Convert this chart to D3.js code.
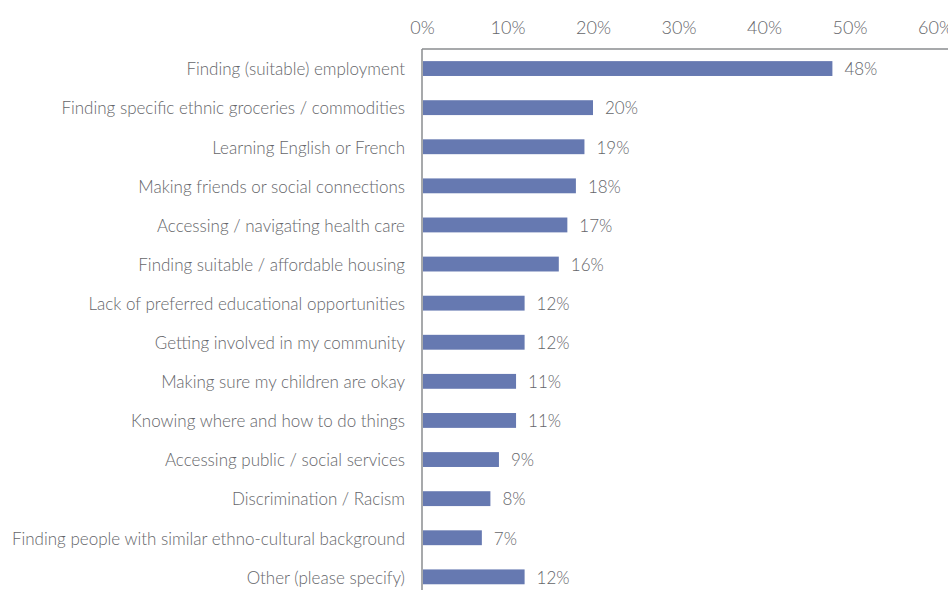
<!DOCTYPE html>
<html>
<head>
<meta charset="utf-8">
<script src="https://cdn.jsdelivr.net/npm/d3@7"></script>
<style>
  html, body { margin: 0; padding: 0; background: #fff; }
  svg { display: block; }
  text { font-family: Lato, "Open Sans", sans-serif; font-weight: 300; fill: #65666a; }
</style>
</head>
<body>
<svg id="chart" width="948" height="590"></svg>
<script>
// Challenges reported by respondents (% of responses)
const categories = [
  "Finding (suitable) employment",
  "Finding specific ethnic groceries / commodities",
  "Learning English or French",
  "Making friends or social connections",
  "Accessing / navigating health care",
  "Finding suitable / affordable housing",
  "Lack of preferred educational opportunities",
  "Getting involved in my community",
  "Making sure my children are okay",
  "Knowing where and how to do things",
  "Accessing public / social services",
  "Discrimination / Racism",
  "Finding people with similar ethno-cultural background",
  "Other (please specify)"
];
const values = [48, 20, 19, 18, 17, 16, 12, 12, 11, 11, 9, 8, 7, 12];
const tickValues = [0, 10, 20, 30, 40, 50, 60];

const svg = d3.select("#chart");
const margin = { left: 422, top: 49 };

const x = d3.scaleLinear().domain([0, 60]).range([margin.left, margin.left + 513]);
const y = d3.scaleBand().domain(categories)
  .range([margin.top, margin.top + 39.1 * categories.length])
  .paddingInner(0.62).paddingOuter(0.31);

// top axis: tick labels only, with a plain baseline across the width
const xAxis = d3.axisTop(x).tickValues(tickValues).tickSize(0).tickPadding(15)
  .tickFormat(d => d + "%");
const gx = svg.append("g").attr("transform", `translate(0,${margin.top})`).call(xAxis);
gx.select(".domain").remove();
gx.selectAll("text").style("font-size", "18px").attr("fill", "#65666a");

svg.append("line")
  .attr("x1", margin.left).attr("x2", 948)
  .attr("y1", margin.top).attr("y2", margin.top)
  .attr("stroke", "#8a8c8f").attr("stroke-width", 1.5);

// left axis: category labels with a vertical line to the bottom edge
const yAxis = d3.axisLeft(y).tickSize(0).tickPadding(17);
const gy = svg.append("g").attr("transform", `translate(${margin.left},0)`).call(yAxis);
gy.select(".domain").remove();
gy.selectAll("text").style("font-size", "17px").attr("fill", "#65666a").attr("dy", "0.4em");

svg.append("line")
  .attr("x1", margin.left).attr("x2", margin.left)
  .attr("y1", margin.top).attr("y2", 590)
  .attr("stroke", "#8a8c8f").attr("stroke-width", 1.5);

// bars
svg.append("g").selectAll("rect").data(values).join("rect")
  .attr("x", x(0) + 1)
  .attr("y", (d, i) => y(categories[i]))
  .attr("width", d => x(d) - x(0) - 1)
  .attr("height", y.bandwidth())
  .attr("fill", "#6679b1");

// value labels
svg.append("g").selectAll("text").data(values).join("text")
  .attr("x", d => x(d) + 12)
  .attr("y", (d, i) => y(categories[i]) + y.bandwidth() / 2)
  .attr("dy", "0.4em")
  .style("font-size", "17px")
  .text(d => d + "%");
</script>
</body>
</html>
